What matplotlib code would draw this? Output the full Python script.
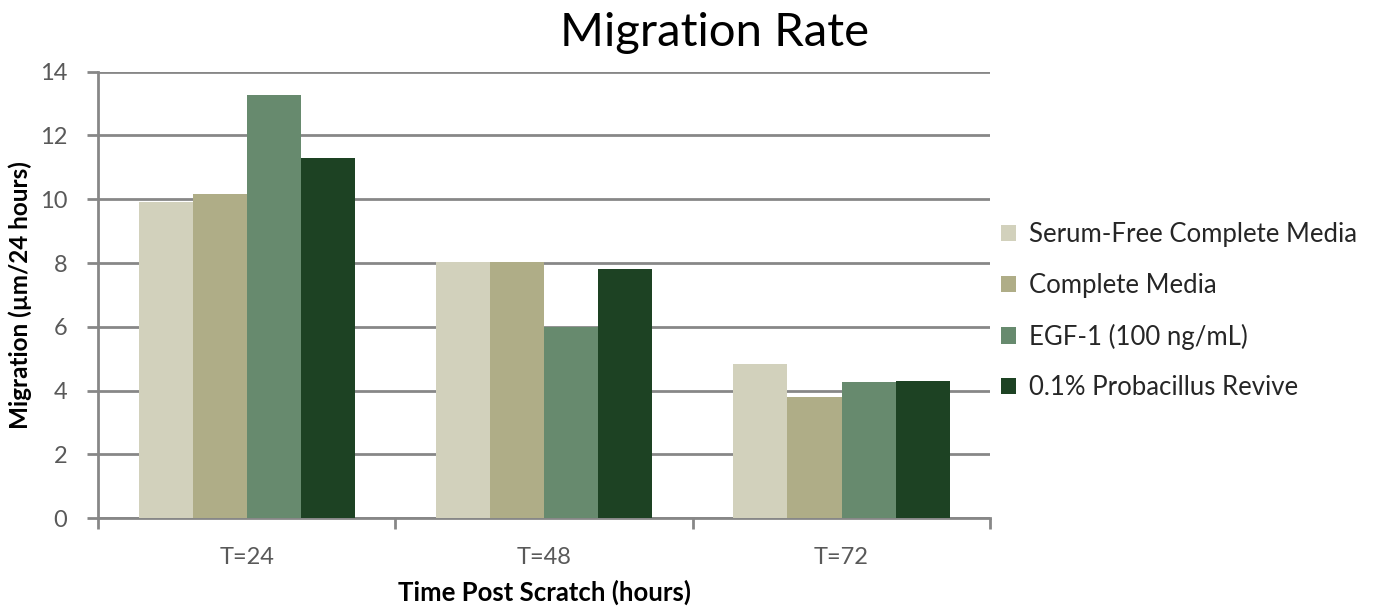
import numpy as np
import matplotlib.pyplot as plt
from matplotlib.patches import Patch
from matplotlib.ticker import FixedLocator, NullFormatter

# --- DATA ---
categories = ['T=24', 'T=48', 'T=72']
series_names = ['Serum-Free Complete Media', 'Complete Media',
                'EGF-1 (100 ng/mL)', '0.1% Probacillus Revive']
serum_free = [9.9, 8.04, 4.82]
complete = [10.16, 8.03, 3.79]
egf = [13.26, 5.98, 4.26]
probacillus = [11.28, 7.81, 4.31]
yticks = [0, 2, 4, 6, 8, 10, 12, 14]

colors = ['#d2d1bc', '#afad87', '#678a6e', '#1d4223']
GRID = '#878787'
TEXT = '#595959'

plt.rcParams['font.family'] = ['Lato', 'DejaVu Sans']

fig = plt.figure(figsize=(13.79, 6.08), dpi=100)
ax = fig.add_axes([0.0711, 0.148, 0.647, 0.734])

x = np.arange(len(categories))
width = 1 / 5.5
values = [serum_free, complete, egf, probacillus]
for i, (vals, c) in enumerate(zip(values, colors)):
    ax.bar(x + (i - 1.5) * width, vals, width, color=c, zorder=3,
           edgecolor='none')

ax.set_xlim(-0.5, 2.5)
ax.set_ylim(0, 14)
ax.set_yticks(yticks)
ax.yaxis.grid(True, color=GRID, linewidth=2, zorder=0)
ax.set_axisbelow(True)

ax.set_xticks(x)
ax.set_xticklabels(categories)
ax.xaxis.set_minor_locator(FixedLocator([-0.5, 0.5, 1.5, 2.5]))
ax.xaxis.set_minor_formatter(NullFormatter())
ax.tick_params(axis='x', which='major', length=0, pad=21, labelsize=17, labelcolor=TEXT)
ax.tick_params(axis='x', which='minor', length=8, width=2, color=GRID, direction='out')
ax.tick_params(axis='y', length=8, width=2, color=GRID, pad=14, labelsize=17, labelcolor=TEXT)

for s in ['top', 'right']:
    ax.spines[s].set_visible(False)
for s in ['left', 'bottom']:
    ax.spines[s].set_color(GRID)
    ax.spines[s].set_linewidth(2)

ax.set_ylabel('Migration (µm/24 hours)', fontsize=17.5, fontweight='bold', labelpad=6)
ax.set_xlabel('Time Post Scratch (hours)', fontsize=18.5, fontweight='bold', labelpad=8)
fig.text(0.518, 0.945, 'Migration Rate', fontsize=34, ha='center', va='center')

handles = [Patch(facecolor=c, label=n) for c, n in zip(colors, series_names)]
fig.legend(handles=handles, loc='center left', bbox_to_anchor=(0.709, 0.488),
           frameon=False, fontsize=18.5, labelcolor='#262626', handlelength=0.6,
           handleheight=0.6, handletextpad=0.5, labelspacing=1.0)

fig.savefig('out.png', dpi=100)
